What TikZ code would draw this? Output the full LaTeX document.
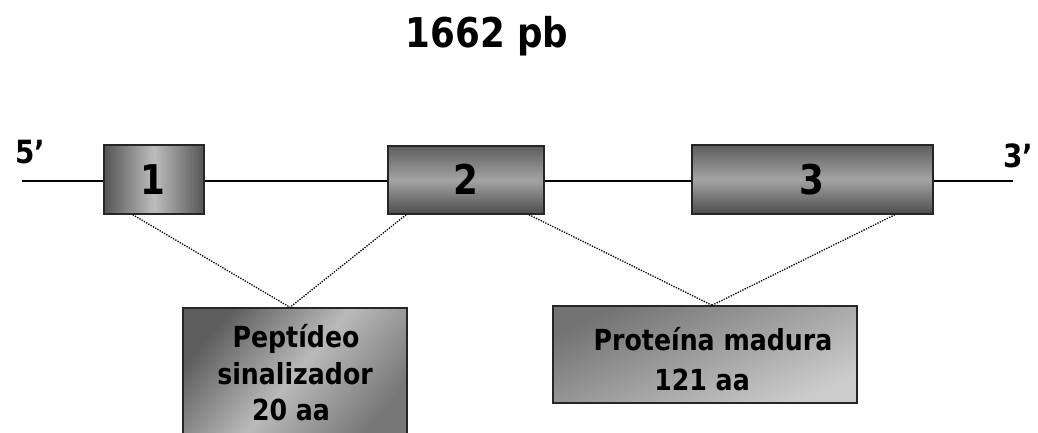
\documentclass[tikz,border=0pt]{standalone}
\usepackage{fontspec}
\newfontfamily\lbl[FakeStretch=0.87,BoldFont={DejaVu Sans Bold}]{DejaVu Sans}
\usetikzlibrary{calc}
\definecolor{gdark}{HTML}{555555}
\definecolor{glight}{HTML}{BDBDBD}
\definecolor{gmid}{HTML}{A8A8A8}
\tikzset{
  exon/.style={draw=black!85, line width=1.4pt, inner sep=0pt},
  exonh/.style={exon, left color=gdark, right color=gdark, middle color=glight},
  exonv/.style={exon, top color=gdark!95, bottom color=gdark!90!black, middle color=gmid!105},
  prodbox/.style={draw=black!85, line width=1.4pt, inner sep=0pt},
  strand/.style={line width=1.4pt, black},
  dots/.style={line width=1.3pt, black, dash pattern=on 1.3pt off 1.3pt},
  big/.style={font=\lbl\bfseries\fontsize{41}{48}\selectfont, inner sep=0pt},
  num/.style={font=\lbl\bfseries\fontsize{41}{48}\selectfont, inner sep=0pt, anchor=base},
  endlbl/.style={font=\lbl\bfseries\fontsize{32}{36}\selectfont, inner sep=0pt, anchor=base},
  boxtxt/.style={font=\lbl\bfseries\fontsize{29}{36}\selectfont, inner sep=0pt, anchor=base}
}
\begin{document}
\begin{tikzpicture}[x=1pt,y=-1pt]
\useasboundingbox (0,0) rectangle (1038,432);
\clip (0,0) rectangle (1038,432);
% title
\node[big, anchor=base] (title) at (487,47) {1662 pb};
% strand ends
\coordinate (l5) at (22,181);
\coordinate (l3) at (1013,181);
% exons
\node[exonh, minimum width=100pt, minimum height=69pt] (b1) at (154,179.5) {};
\node[exonv, minimum width=156pt, minimum height=68pt] (b2) at (466,180) {};
\node[exonv, minimum width=241pt, minimum height=69pt] (b3) at (812.5,179.5) {};
\node[num] (n1) at (153,194) {1};
\node[num] (n2) at (466,194) {2};
\node[num] (n3) at (812,194) {3};
% strand
\draw[strand] (l5) -- (b1.west |- l5);
\draw[strand] (b1.east |- l5) -- (b2.west |- l5);
\draw[strand] (b2.east |- l5) -- (b3.west |- l5);
\draw[strand] (b3.east |- l5) -- (l3);
\node[endlbl] (e5) at (30,163) {5’};
\node[endlbl] (e3) at (1018,167) {3’};
% product boxes
\node[prodbox, minimum width=224pt, minimum height=132pt, left color=gdark!95, right color=gdark!80, middle color=glight!105, shading angle=50] (p1) at (295,374) {};
\node[prodbox, minimum width=304pt, minimum height=97pt, left color=black!55, right color=black!20, shading angle=25] (p2) at (705,354.5) {};
\node[boxtxt] (t1) at (296,347) {Peptídeo};
\node[boxtxt] (t2) at (295,384) {sinalizador};
\node[boxtxt] (t3) at (291,420) {20 aa};
\node[boxtxt] (t4) at (713,350) {Proteína madura};
\node[boxtxt] (t5) at (702,390) {121 aa};
% dotted connectors
\coordinate (a1) at ($(p1.north)+(-5,0)$);
\coordinate (a2) at ($(p2.north)+(7,0)$);
\draw[dots] ($(b1.south west)!0.29!(b1.south east)$) -- (a1);
\draw[dots] ($(b2.south west)!0.12!(b2.south east)$) -- (a1);
\draw[dots] ($(b2.south west)!0.90!(b2.south east)$) -- (a2);
\draw[dots] ($(b3.south west)!0.84!(b3.south east)$) -- (a2);
\end{tikzpicture}
\end{document}
